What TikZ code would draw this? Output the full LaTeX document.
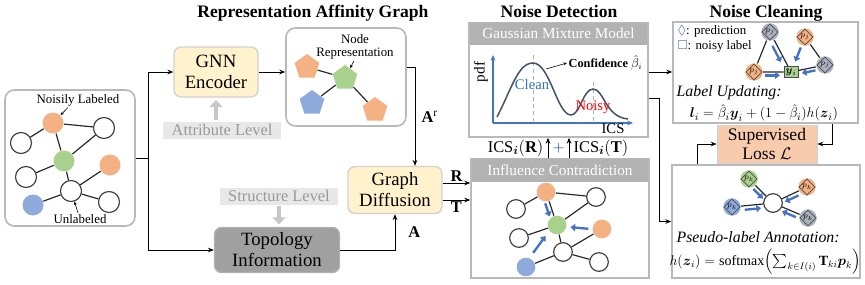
\documentclass[tikz,border=0pt]{standalone}
\usepackage{amsmath, amssymb}
\usepackage{fontspec}
\setmainfont{Liberation Serif}
\usepackage{tikz}
\usetikzlibrary{arrows.meta, positioning, shapes.geometric, calc}
\usepackage{xcolor}
\definecolor{nodeorange}{RGB}{244,177,131}
\definecolor{nodegreen}{RGB}{169,209,142}
\definecolor{nodeblue}{RGB}{143,170,220}
\definecolor{nodegray}{RGB}{170,176,188}
\definecolor{flowblue}{RGB}{68,114,196}
\definecolor{cleanblue}{RGB}{46,117,182}
\definecolor{curveblue}{RGB}{68,84,106}
\definecolor{boxyellow}{RGB}{255,242,204}
\definecolor{lossorange}{RGB}{248,203,173}
\definecolor{topogray}{RGB}{160,160,160}
\definecolor{headgray}{RGB}{178,178,178}
\definecolor{levelgray}{RGB}{232,232,232}
\definecolor{legendblue}{RGB}{47,85,151}
\newcommand{\pnode}[4]{\node[pball, fill=#3] (#1) at (#2) {}; \node[pdia] (#1d) at (#1) {#4};}
\newcommand{\flowto}[3]{\draw[flowarrow] ($(#1)!0.3!(#2)!#3!90:(#2)$) -- ($(#1)!0.7!(#2)!#3!90:(#2)$);}

\begin{document}
\begin{tikzpicture}[x=0.3mm, y=-0.3mm, >={Stealth[length=5pt,width=4pt]}, line width=0.8pt,
  every node/.append style={inner sep=1pt},
  panel/.style={draw=gray!55, line width=1.4pt, fill=white},
  rpanel/.style={panel, rounded corners=8pt},
  ybox/.style={draw=gray!35, line width=1.2pt, fill=boxyellow, rounded corners=6pt, align=center, inner sep=0pt, font=\fontsize{16}{18}\selectfont},
  topobox/.style={draw=gray!60, line width=1.2pt, fill=topogray, rounded corners=6pt, align=center, inner sep=0pt, font=\fontsize{16}{18}\selectfont},
  lvbox/.style={fill=levelgray, text=black!40, font=\fontsize{14}{14}\selectfont, minimum height=5.1mm, minimum width=35.5mm, inner sep=0pt},
  lvarrow/.style={draw=black!22, line width=4pt, -{Triangle[length=6pt,width=11pt]}},
  headbar/.style={fill=headgray, text=white, font=\fontsize{13}{13}\selectfont, anchor=north, inner sep=0pt},
  ttl/.style={font=\fontsize{15}{15}\selectfont\bfseries, anchor=base},
  gnode/.style={circle, draw=black!75, line width=1pt, fill=white, minimum size=6.3mm, inner sep=0pt},
  cnode/.style={circle, minimum size=6.3mm, inner sep=0pt},
  pent/.style={regular polygon, regular polygon sides=5, minimum size=7.8mm, inner sep=0pt},
  pball/.style={circle, minimum size=5.2mm, inner sep=0pt},
  pdia/.style={diamond, draw=black!70, line width=0.6pt, inner sep=0.2pt, font=\fontsize{7}{7}\selectfont},
  flowarrow/.style={flowblue, line width=2pt, -{Triangle[length=4pt,width=6pt]}},
  link/.style={black!85, line width=1pt},
  smalltext/.style={font=\fontsize{11}{11}\selectfont},
  pointer/.style={-{Stealth[length=3pt,width=2.5pt]}, line width=0.5pt},
  mathlbl/.style={font=\fontsize{14}{14}\selectfont},
]
  \useasboundingbox (0,0) rectangle (865,285);

  % Titles
  \node[ttl] (ttlrep) at (313,17) {Representation Affinity Graph};
  \node[ttl] (ttldet) at (559,17) {Noise Detection};
  \node[ttl] (ttlcln) at (766,17) {Noise Cleaning};

  % Input graph
  \node[rpanel, minimum width=39mm, minimum height=40.8mm] (inbox) at (70,158) {};
  \node[cnode, fill=nodeorange] (n1) at (53,123) {};
  \node[gnode] (n2) at (104,128) {};
  \node[gnode] (n3) at (21,143) {};
  \node[cnode, fill=nodegreen] (n4) at (64,161) {};
  \node[cnode, fill=nodeorange] (n5) at (110,165) {};
  \node[gnode] (n6) at (26,177) {};
  \node[gnode] (n7) at (71,191) {};
  \node[cnode, fill=nodeblue] (n8) at (33,205) {};
  \node[gnode] (n9) at (109,202) {};
  \draw[link] (n1) -- (n3) (n1) -- (n2) (n1) -- (n4) (n4) -- (n2) (n4) -- (n6)
              (n4) -- (n7) (n7) -- (n5) (n7) -- (n8) (n7) -- (n9);
  \node[smalltext] (lblnoisy) at (78,100) {Noisily Labeled};
  \draw[pointer] ([xshift=-3mm]lblnoisy.south) -- (n1);
  \node[smalltext] (lblunl) at (80,219) {Unlabeled};
  \draw[pointer] ([xshift=-0.6mm]lblunl.north) -- (n7);

  % Attribute branch
  \node[ybox, minimum width=25.2mm, minimum height=15mm] (gnn) at (216,72) {GNN\\Encoder};
  \node[lvbox] (attr) at (222,130) {Attribute Level};
  \draw[lvarrow, shorten <=1pt, shorten >=2pt] (attr.north -| gnn.south) -- (gnn.south);

  % Node representation
  \node[rpanel, minimum width=36mm, minimum height=29.4mm] (nrep) at (346,77) {};
  \node[pent, fill=nodeorange] (r1) at (307,67) {};
  \node[pent, fill=nodegreen] (r2) at (345,78) {};
  \node[pent, fill=nodeblue] (r3) at (312,103) {};
  \node[pent, fill=nodeorange] (r4) at (375,110) {};
  \draw[link] (r1) -- (r2) (r2) -- (r3) (r2) -- (r4);
  \node[smalltext, align=center] (nrtext) at (355,47) {Node\\Representation};
  \draw[pointer] ([xshift=-0.3mm]nrtext.south) -- (r2);

  % Structure branch
  \node[topobox, minimum width=37.5mm, minimum height=13.5mm] (topo) at (277,250) {Topology\\Information};
  \node[lvbox] (struct) at (279,196) {Structure Level};
  \draw[lvarrow, shorten <=1pt, shorten >=2pt] (struct.south) -- (struct.south |- topo.north);

  % Graph diffusion
  \node[ybox, minimum width=28.2mm, minimum height=14.1mm] (diff) at (395,190) {Graph\\Diffusion};

  % Gaussian mixture model
  \node[panel, minimum width=53.7mm, minimum height=34.2mm] (gmm) at (558.5,80) {};
  \node[headbar, minimum width=53.2mm, minimum height=6.6mm] (gmmhead) at (gmm.north) {Gaussian Mixture Model};
  \coordinate (orig) at (493,123);
  \draw[flowblue, line width=1pt, ->] (orig) -- (493,55);
  \draw[flowblue, line width=1pt, ->] (orig) -- (633,123);
  \draw[gray!60, dashed] (533,55) -- (533,121) (593,82) -- (593,121);
  \draw[curveblue, line width=1.3pt] (497,117) .. controls (512,88) and (518,63) .. (533,63)
    .. controls (550,63) and (557,115) .. (571,115) .. controls (580,115) and (583,89) .. (593,89)
    .. controls (604,89) and (605,117) .. (628,119);
  \node[font=\fontsize{13}{13}\selectfont, rotate=90] (pdf) at (481,72) {pdf};
  \node[font=\fontsize{12.5}{12.5}\selectfont] (ics) at (613,129) {ICS};
  \node[font=\fontsize{12.5}{12.5}\selectfont, text=cleanblue] (clean) at (532,84) {Clean};
  \node[font=\fontsize{12.5}{12.5}\selectfont, text=red] (gmmnoisy) at (593,107) {Noisy};
  \node[font=\fontsize{10.5}{10.5}\selectfont\bfseries, anchor=west] (conf) at (567,63) {Confidence $\hat{\beta}_i$};
  \draw[pointer] (546,69) -- (conf.west);

  % Influence contradiction
  \node[panel, minimum width=53.4mm, minimum height=35.7mm] (infl) at (560,218.5) {};
  \node[headbar, minimum width=52.9mm, minimum height=6.9mm] (inflhead) at (infl.north) {Influence Contradiction};
  \node[cnode, fill=nodeorange, minimum size=5.6mm] (i1) at (546,192) {};
  \node[gnode, minimum size=5.6mm] (i2) at (596,197) {};
  \node[gnode, minimum size=5.6mm] (i3) at (516,209) {};
  \node[cnode, fill=nodegreen, minimum size=5.6mm] (i4) at (557,225) {};
  \node[cnode, fill=nodeorange, minimum size=5.6mm] (i5) at (602,229) {};
  \node[gnode, minimum size=5.6mm] (i6) at (519,238) {};
  \node[gnode, minimum size=5.6mm] (i7) at (563,252) {};
  \node[cnode, fill=nodeblue, minimum size=5.6mm] (i8) at (526,267) {};
  \node[gnode, minimum size=5.6mm] (i9) at (599,262) {};
  \draw[link] (i1) -- (i3) (i1) -- (i2) (i1) -- (i4) (i4) -- (i2) (i4) -- (i6)
              (i4) -- (i7) (i7) -- (i5) (i7) -- (i8) (i7) -- (i9);
  \flowto{i1}{i4}{-1.3mm}
  \flowto{i5}{i4}{0.3mm}
  \flowto{i8}{i4}{0.8mm}

  % ICS scores
  \node[mathlbl, anchor=east] (icsr) at (545,148) {ICS$_{\boldsymbol{i}}(\mathbf{R})$};
  \node[mathlbl, anchor=west] (icst) at (572,148) {ICS$_{\boldsymbol{i}}(\mathbf{T})$};
  \node[text=flowblue, font=\fontsize{11}{11}\selectfont] (plus) at (558.5,148) {$\boldsymbol{+}$};

  % Label updating
  \node[panel, minimum width=55.5mm, minimum height=30.3mm] (lupd) at (765.5,72.5) {};
  \node[smalltext, anchor=west] (leg1) at (676,31) {\textcolor{legendblue}{$\Diamond$}: prediction};
  \node[smalltext, anchor=west] (leg2) at (676,46) {\textcolor{legendblue}{$\square$}: noisy label};
  \pnode{l1}{770,32}{nodegray}{$p_j$}
  \pnode{l2}{805,37}{nodeorange}{$p_j$}
  \pnode{l3}{754,72}{nodeorange}{$p_j$}
  \pnode{l4}{825,65}{nodegray}{$p_j$}
  \node[draw=black!70, fill=nodegreen, line width=0.7pt, inner sep=1.5pt, font=\fontsize{9}{9}\selectfont] (yi) at (791,72) {$\boldsymbol{y}_i$};
  \draw[link] (l1) -- (l3) (l1) -- (yi) (l3) -- (yi) (yi) -- (l4) (l2) -- (l4);
  \flowto{l1}{yi}{-1.3mm}
  \flowto{l2}{yi}{0mm}
  \flowto{l3}{yi}{-1mm}
  \flowto{l4}{yi}{1mm}
  \node[font=\fontsize{13.5}{13.5}\selectfont\itshape, anchor=west] (lutitle) at (675,93) {Label Updating:};
  \node[font=\fontsize{12.5}{12.5}\selectfont] (luform) at (764,113)
    {$\boldsymbol{l}_i = \hat{\beta}_i\boldsymbol{y}_i + (1-\hat{\beta}_i)h(\boldsymbol{z}_i)$};

  % Supervised loss
  \node[draw=gray!35, fill=lossorange, align=center, inner sep=0pt, font=\fontsize{15}{16}\selectfont,
        minimum width=30mm, minimum height=11.4mm] (loss) at (767,144) {Supervised\\Loss $\mathcal{L}$};

  % Pseudo-label annotation
  \node[panel, minimum width=56.4mm, minimum height=33.9mm] (pseudo) at (766,221.5) {};
  \node[gnode, minimum size=5.6mm] (qc) at (773,203) {};
  \pnode{q1}{749,179}{nodegreen}{$p_k$}
  \pnode{q2}{807,187}{nodeorange}{$p_k$}
  \pnode{q3}{732,207}{nodeblue}{$p_k$}
  \pnode{q4}{808,218}{nodegray}{$p_k$}
  \draw[link] (q1) -- (qc) (q2) -- (qc) (q3) -- (qc) (q4) -- (qc);
  \flowto{q1}{qc}{-1.2mm}
  \flowto{q2}{qc}{1.2mm}
  \flowto{q3}{qc}{-1.2mm}
  \flowto{q4}{qc}{1.2mm}
  \node[font=\fontsize{13.5}{13.5}\selectfont\itshape, anchor=west] (pstitle) at (675,237) {Pseudo-label Annotation:};
  \node[font=\fontsize{12}{12}\selectfont] (psform) at (765,262)
    {$h(\boldsymbol{z}_i) = \text{softmax}\Bigl(\sum_{k\in I(i)} \mathbf{T}_{ki}\boldsymbol{p}_k\Bigr)$};

  % Connectors
  \coordinate (split) at (148,158);
  \draw (inbox.east) -- (split);
  \draw[->] (split) |- (gnn.west);
  \draw[->] (split) |- (topo.west);
  \draw[->] (gnn.east) -- (gnn.east -| nrep.west);
  \draw[->] ([yshift=3mm]nrep.east) -| ([xshift=6mm]diff.north)
    node[pos=0.75, right, xshift=1.5mm, mathlbl] {$\mathbf{A}^{\mathrm{r}}$};
  \draw[->] (topo.east) -| (diff.south)
    node[pos=0.75, right, xshift=3.5mm, mathlbl] {$\mathbf{A}$};
  \draw[->] ([yshift=2.1mm]diff.east) -- ([yshift=2.1mm]diff.east -| infl.west)
    node[midway, above, mathlbl] {$\mathbf{R}$};
  \draw[->] ([yshift=-3mm]diff.east) -- ([yshift=-3mm]diff.east -| infl.west)
    node[midway, below, mathlbl] {$\mathbf{T}$};
  \draw[->] ([xshift=-3.6mm]infl.north) -- ([xshift=-3.6mm]infl.north |- gmm.south);
  \draw[->] ([xshift=2.7mm]infl.north) -- ([xshift=2.7mm]infl.north |- gmm.south);
  \draw[->] ([yshift=2.4mm]gmm.east) -- ([yshift=2.4mm]gmm.east -| lupd.west);
  \draw[->] ([yshift=-5.4mm]gmm.east) -| ([xshift=-3.6mm]pseudo.west) -- (pseudo.west);
  \draw[->] ([xshift=20.2mm]lupd.south) |- (loss.east);
  \draw[->] ([xshift=-20.7mm]pseudo.north) |- (loss.west);
\end{tikzpicture}
\end{document}
